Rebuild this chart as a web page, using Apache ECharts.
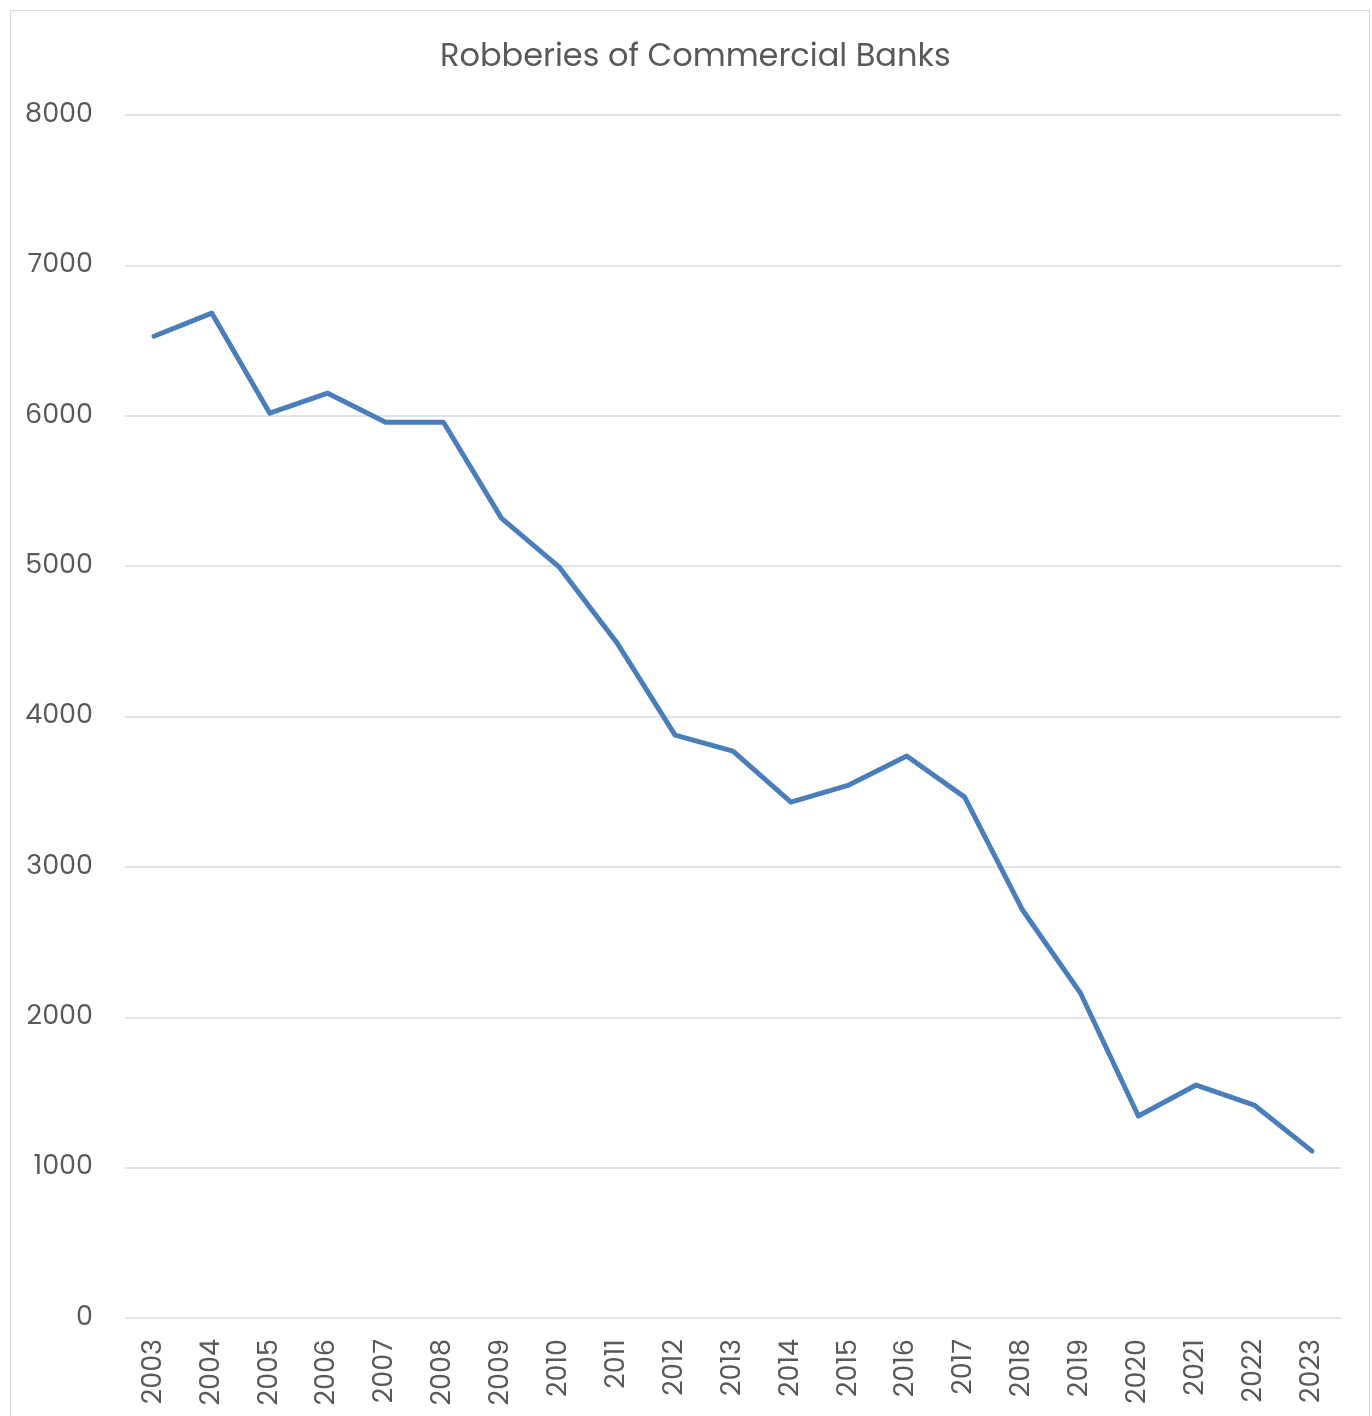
<!DOCTYPE html>
<html><head><meta charset="utf-8">
<script src="https://cdn.jsdelivr.net/npm/echarts@6/dist/echarts.min.js"></script>
<style>
html,body{margin:0;padding:0;background:#fff;overflow:hidden}
#c{position:absolute;left:0;top:0;width:1372px;height:1416px}
#b{position:absolute;left:10px;top:10px;width:1358px;height:1430px;border:1px solid #d9d9d9;pointer-events:none}
</style></head>
<body>
<div id="c"></div><div id="b"></div>
<script>
const years = ['2003','2004','2005','2006','2007','2008','2009','2010','2011','2012','2013','2014','2015','2016','2017','2018','2019','2020','2021','2022','2023'];
const robberies = [6529,6682,6017,6150,5957,5957,5319,4993,4488,3876,3770,3431,3544,3737,3464,2713,2161,1343,1549,1416,1110];
const ff = 'Poppins, "Open Sans", "Noto Sans", sans-serif';
const chart = echarts.init(document.getElementById('c'));
chart.setOption({
  animation:false,
  title:{text:'Robberies of Commercial Banks',left:435,top:37,
    textStyle:{fontFamily:ff,fontSize:32,fontWeight:'normal',color:'#595959'}},
  grid:{left:125,right:31,top:115,bottom:98},
  xAxis:{type:'category',data:years,boundaryGap:true,
    axisLine:{show:false},axisTick:{show:false},
    axisLabel:{rotate:90,margin:21,fontFamily:ff,fontSize:27,color:'#595959',interval:0}},
  yAxis:{type:'value',min:0,max:8000,interval:1000,
    axisLine:{show:false},axisTick:{show:false},
    splitLine:{lineStyle:{color:'#d9d9d9',width:1.5}},
    axisLabel:{margin:32,fontFamily:ff,fontSize:27,color:'#595959',formatter:v=>String(v)}},
  series:[{type:'line',data:robberies,symbol:'none',
    lineStyle:{color:'#4a7ebb',width:5,join:'round',cap:'round'}}]
});
</script>
</body></html>
